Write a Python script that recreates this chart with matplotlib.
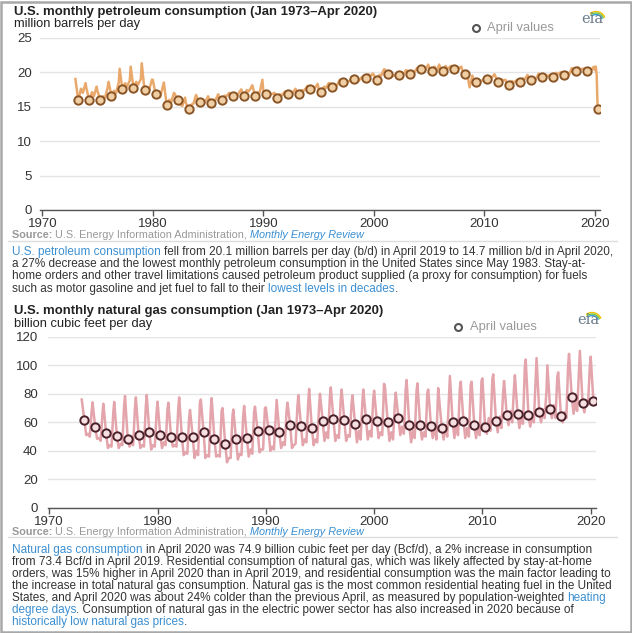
import matplotlib
matplotlib.use('Agg')
import matplotlib.pyplot as plt
from matplotlib.font_manager import FontProperties
from matplotlib.lines import Line2D
from matplotlib.patches import Rectangle
import numpy as np

plt.rcParams['font.family'] = ['Liberation Sans', 'DejaVu Sans']

# ---------------- data ----------------
years = list(range(1973, 2020))

# petroleum, million b/d (selected months per year, 1973-2019)
pet_jan = [19.0, 17.6, 17.2, 18.6, 20.5, 20.8, 21.3, 18.9, 18.5, 16.8,
           15.5, 16.3, 16.5, 16.3, 16.9, 17.5, 18.1, 17.3, 17.0, 17.2,
           17.3, 18.0, 17.6, 18.4, 18.7, 18.8, 19.2, 19.6, 20.4, 19.6,
           20.2, 20.3, 20.7, 20.6, 20.9, 20.3, 19.0, 18.8, 19.4, 18.4,
           18.9, 18.8, 19.1, 19.3, 19.5, 20.0, 20.5]
pet_apr = [15.9, 15.9, 16.0, 16.6, 17.5, 17.7, 17.4, 16.8, 15.3, 16.0,
           14.7, 15.6, 15.5, 15.9, 16.5, 16.5, 16.6, 16.8, 16.2, 16.8,
           16.8, 17.5, 17.1, 17.9, 18.6, 19.0, 19.1, 18.8, 19.7, 19.6,
           19.8, 20.5, 20.2, 20.2, 20.5, 19.8, 18.6, 19.0, 18.6, 18.2,
           18.6, 18.9, 19.3, 19.3, 19.6, 20.1, 20.1]
pet_jul = [17.6, 17.1, 16.5, 17.3, 18.4, 18.6, 17.8, 16.7, 16.0, 15.3,
           15.3, 15.8, 16.0, 16.6, 16.9, 17.4, 17.1, 17.0, 16.8, 17.1,
           17.4, 17.8, 17.9, 18.2, 18.7, 19.2, 19.7, 19.6, 19.8, 20.0,
           20.2, 20.7, 20.8, 20.9, 20.8, 19.3, 18.9, 19.4, 19.0, 18.7,
           19.1, 19.1, 19.7, 19.9, 20.0, 20.7, 20.6]
pet_sep = [17.0, 16.5, 16.2, 16.9, 17.9, 18.2, 17.4, 16.4, 15.6, 15.1,
           15.4, 15.6, 15.9, 16.5, 16.7, 17.2, 17.0, 16.8, 16.6, 17.0,
           17.3, 17.7, 17.7, 18.1, 18.6, 18.8, 19.4, 19.5, 19.4, 19.7,
           20.0, 20.3, 20.1, 20.5, 20.5, 17.8, 18.7, 19.2, 18.8, 18.5,
           19.0, 19.0, 19.4, 19.7, 19.6, 20.4, 20.3]
pet_dec = [18.4, 17.9, 17.8, 18.5, 18.8, 19.0, 18.9, 18.0, 17.0, 16.3,
           16.7, 16.2, 16.8, 17.0, 17.3, 17.8, 18.9, 16.9, 17.1, 17.6,
           17.8, 18.3, 18.4, 18.9, 18.9, 19.3, 19.8, 20.4, 19.6, 20.3,
           20.6, 21.1, 21.1, 20.8, 20.8, 19.5, 18.9, 19.7, 18.9, 18.8,
           19.6, 19.8, 19.6, 20.0, 20.6, 20.5, 20.8]
pet_2020 = [20.3, 20.8, 19.6, 14.7]   # Jan-Apr 2020

# natural gas, Bcf/d (selected months per year, 1973-2019)
gas_jan = [76.0, 74.0, 73.0, 74.3, 78.5, 77.5, 79.2, 74.5, 73.8, 77.5,
           68.7, 76.0, 77.0, 70.0, 69.0, 71.5, 71.0, 70.5, 75.7, 73.8,
           79.0, 83.4, 80.0, 84.5, 83.0, 79.0, 83.0, 82.2, 85.0, 80.8,
           89.7, 87.3, 83.0, 76.8, 92.5, 88.5, 88.5, 90.8, 93.6, 89.0,
           93.0, 104.0, 105.0, 100.0, 95.0, 108.0, 110.0]
gas_apr = [61.4, 56.5, 52.5, 50.2, 48.1, 51.4, 53.0, 51.4, 49.7, 49.7,
           50.0, 53.5, 48.6, 45.1, 48.1, 49.0, 53.7, 54.6, 53.0, 58.1,
           57.2, 55.8, 61.0, 62.3, 61.9, 58.6, 62.3, 61.2, 60.5, 62.8,
           58.1, 58.4, 57.7, 56.3, 60.5, 61.0, 58.1, 56.5, 61.2, 65.2,
           65.6, 65.4, 67.2, 69.6, 64.7, 78.1, 73.5]
gas_jun = [51, 48.5, 42, 42, 43, 42, 41, 42, 43, 37,
           35, 35, 36, 32, 34, 36, 39, 40, 42, 42,
           44, 44, 47, 47, 47, 46, 48, 49, 47, 51,
           46, 48, 49, 48, 49, 49, 49, 52, 53, 58,
           56, 57, 60, 63, 60, 66, 67]
gas_aug = [52, 49, 44, 45, 46, 44, 44, 46, 44, 39,
           40, 37, 37, 35, 38, 41, 41, 43, 46, 44,
           48, 48, 53, 51, 51, 54, 54, 53, 53, 57,
           54, 53, 58, 58, 59, 56, 57, 63, 64, 68,
           63, 64, 69, 72, 67, 74, 75]
gas_oct = [50, 47, 43, 44, 44, 43, 43, 44, 43, 38,
           37, 36, 36, 35, 37, 38, 41, 41, 44, 45,
           46, 46, 49, 49, 50, 48, 50, 51, 48, 52,
           49, 50, 48, 50, 51, 50, 51, 54, 56, 60,
           59, 60, 63, 63, 63, 68, 72]
gas_dec = [68, 66, 67, 72, 70, 71, 67, 69, 70, 63,
           74, 69, 68, 64, 65, 67, 70, 64, 68, 71,
           74, 71, 78, 76, 73, 74, 76, 87, 73, 83,
           82, 81, 84, 78, 84, 86, 89, 90, 81, 84,
           99, 90, 82, 92, 100, 95, 99]
gas_2020 = [106.0, 74.9]   # Jan, Apr 2020

xtick_vals = [1970, 1980, 1990, 2000, 2010, 2020]
pet_yticks = [0, 5, 10, 15, 20, 25]
gas_yticks = [0, 20, 40, 60, 80, 100, 120]

# ---------------- build series ----------------
def build(arrs, months, extra_months, extra_vals):
    xs, ys = [], []
    for i, yr in enumerate(years):
        for m, a in zip(months, arrs):
            xs.append(yr + (m - 1) / 12.0)
            ys.append(a[i])
    for m, v in zip(extra_months, extra_vals):
        xs.append(2020 + (m - 1) / 12.0)
        ys.append(v)
    return xs, ys

pet_x, pet_y = build([pet_jan, pet_apr, pet_jul, pet_sep, pet_dec], [1, 4, 7, 9, 12],
                     [1, 2, 3, 4], pet_2020)
gas_x, gas_y = build([gas_jan, gas_apr, gas_jun, gas_aug, gas_oct, gas_dec], [1, 4, 6, 8, 10, 12],
                     [1, 4], gas_2020)
apr_x = [y + 3 / 12.0 for y in years] + [2020 + 3 / 12.0]
pet_apr_all = pet_apr + [pet_2020[3]]
gas_apr_all = gas_apr + [gas_2020[1]]

# ---------------- figure ----------------
W, H = 632, 633
fig = plt.figure(figsize=(W / 100, H / 100), dpi=100)
fig.patch.set_facecolor('white')
renderer = fig.canvas.get_renderer()

FAM = 'Liberation Sans'
DARK = '#333333'
BLUE = '#3b8fd1'
GRAY = '#999999'

def fp(size, weight='normal', style='normal'):
    return FontProperties(family=FAM, size=size, weight=weight, style=style)

def tw(s, size, weight='normal', style='normal'):
    w, h, d = renderer.get_text_width_height_descent(s, fp(size, weight, style), ismath=False)
    return w

def adv(s, size, weight='normal', style='normal'):
    return tw(s + 'l', size, weight, style) - tw('l', size, weight, style)

def fit(s, target, weight='normal'):
    return 10.0 * target / tw(s, 10.0, weight)

def put(x, y, segs, size):
    for s, color, weight, style in segs:
        fig.text(x / W, 1 - y / H, s, fontsize=size, color=color, weight=weight,
                 style=style, ha='left', va='center', family=FAM)
        x += adv(s, size, weight, style)

def fig_marker(x, y, **kw):
    fig.add_artist(Line2D([x / W], [1 - y / H], transform=fig.transFigure, **kw))

def logo(cx, cy):
    fig.text(cx / W, 1 - cy / H, 'eia', family='DejaVu Serif', fontsize=10.5,
             color='#6b7b8b', ha='center', va='center')
    th = np.linspace(np.radians(25), np.radians(125), 25)
    for r, c in [(9.5, '#f2c200'), (8.0, '#7cc242'), (6.5, '#2a9fd6')]:
        xs = (cx + 4 + r * np.cos(th)) / W
        ys = 1 - (cy + 2 - r * np.sin(th)) / H
        fig.add_artist(Line2D(xs, ys, transform=fig.transFigure, color=c, lw=1.0))

def style_axes(ax, yticks, ylim, pad):
    ax.set_ylim(*ylim)
    ax.set_yticks(yticks)
    ax.set_xticks(xtick_vals)
    ax.yaxis.grid(True, color='#e4e4e4', lw=1.0)
    ax.set_axisbelow(True)
    for s in ['top', 'right', 'left']:
        ax.spines[s].set_visible(False)
    ax.spines['bottom'].set_color('#555555')
    ax.spines['bottom'].set_linewidth(1.0)
    ax.tick_params(axis='y', length=0, pad=pad, labelsize=9.5, labelcolor=DARK)
    ax.tick_params(axis='x', length=4, width=1, color='#555555', labelsize=9.5,
                   labelcolor=DARK, pad=2)
    for lab in ax.get_xticklabels() + ax.get_yticklabels():
        lab.set_family(FAM)

# ---- petroleum chart ----
ax1 = fig.add_axes([40.3 / W, 1 - 210 / H, (599.6 - 40.3) / W, (210 - 37.7) / H])
ax1.plot(pet_x, pet_y, color='#eaa96c', lw=1.8, zorder=3)
ax1.plot(apr_x, pet_apr_all, 'o', ms=6, mfc='#f1cfa5', mec='#8a5526', mew=1.4, zorder=4)
ax1.set_xlim(1969.82, 2020.43)
style_axes(ax1, pet_yticks, (0, 25), 6)

# ---- natural gas chart ----
ax2 = fig.add_axes([47.6 / W, 1 - 508 / H, (596 - 47.6) / W, (508 - 336.7) / H])
ax2.plot(gas_x, gas_y, color='#e3a4ab', lw=1.8, zorder=3)
ax2.plot(apr_x, gas_apr_all, 'o', ms=6, mfc='#f6e0e2', mec='#4a2029', mew=1.4, zorder=4)
ax2.set_xlim(1969.85, 2020.49)
style_axes(ax2, gas_yticks, (0, 120), 7)

# ---- titles ----
t1 = 'U.S. monthly petroleum consumption (Jan 1973\u2013Apr 2020)'
t2 = 'U.S. monthly natural gas consumption (Jan 1973\u2013Apr 2020)'
tsize = fit(t1, 363, 'bold')
put(14, 12, [(t1, '#222222', 'bold', 'normal')], tsize)
put(14, 311, [(t2, '#222222', 'bold', 'normal')], tsize)
ssize = fit('million barrels per day', 127)
put(14, 24.5, [('million barrels per day', '#222222', 'normal', 'normal')], ssize)
put(14, 323.5, [('billion cubic feet per day', '#222222', 'normal', 'normal')], ssize)

# ---- legends ----
lsize = fit('April values', 67)
fig_marker(476, 28, marker='o', ms=5, mfc='white', mec='#555555', mew=1.5)
put(487, 28, [('April values', GRAY, 'normal', 'normal')], lsize)
fig_marker(458, 327, marker='o', ms=5, mfc='white', mec='#555555', mew=1.5)
put(470, 327, [('April values', GRAY, 'normal', 'normal')], lsize)

logo(592, 19)
logo(588, 320)

# ---- sources ----
src = [('Source: ', GRAY, 'bold', 'normal'),
       ('U.S. Energy Information Administration, ', GRAY, 'normal', 'normal'),
       ('Monthly Energy Review', BLUE, 'normal', 'italic')]
srcsize = fit('Source: U.S. Energy Information Administration, Monthly Energy Review', 349)
put(12, 235, src, srcsize)
put(12, 532, src, srcsize)
for yy in (241, 537):
    fig.add_artist(Line2D([8 / W, 617 / W], [1 - yy / H, 1 - yy / H],
                          transform=fig.transFigure, color='#dddddd', lw=1))

# ---- paragraphs ----
psize = fit('orders, was 15% higher in April 2020 than in April 2019, and residential '
            'consumption was the main factor leading to', 600)
para1 = [
    [('U.S. petroleum consumption ', BLUE),
     ('fell from 20.1 million barrels per day (b/d) in April 2019 to 14.7 million b/d in April 2020,', DARK)],
    [('a 27% decrease and the lowest monthly petroleum consumption in the United States since May 1983. Stay-at-', DARK)],
    [('home orders and other travel limitations caused petroleum product supplied (a proxy for consumption) for fuels', DARK)],
    [('such as motor gasoline and jet fuel to fall to their ', DARK), ('lowest levels in decades', BLUE), ('.', DARK)],
]
para2 = [
    [('Natural gas consumption ', BLUE),
     ('in April 2020 was 74.9 billion cubic feet per day (Bcf/d), a 2% increase in consumption', DARK)],
    [('from 73.4 Bcf/d in April 2019. Residential consumption of natural gas, which was likely affected by stay-at-home', DARK)],
    [('orders, was 15% higher in April 2020 than in April 2019, and residential consumption was the main factor leading to', DARK)],
    [('the increase in total natural gas consumption. Natural gas is the most common residential heating fuel in the United', DARK)],
    [('States, and April 2020 was about 24% colder than the previous April, as measured by population-weighted ', DARK),
     ('heating', BLUE)],
    [('degree days', BLUE),
     ('. Consumption of natural gas in the electric power sector has also increased in 2020 because of', DARK)],
    [('historically low natural gas prices', BLUE), ('.', DARK)],
]
for i, line in enumerate(para1):
    put(12, 252 + i * 12.2, [(s, c, 'normal', 'normal') for s, c in line], psize)
for i, line in enumerate(para2):
    put(12, 550.5 + i * 11.85, [(s, c, 'normal', 'normal') for s, c in line], psize)

# ---- outer frame ----
fig.add_artist(Rectangle((1 / W, 1 / H), (W - 2.5) / W, (H - 2.5) / H, transform=fig.transFigure,
                         fill=False, edgecolor='#a8a8a8', lw=1.8))

fig.savefig('out.png', dpi=100)
